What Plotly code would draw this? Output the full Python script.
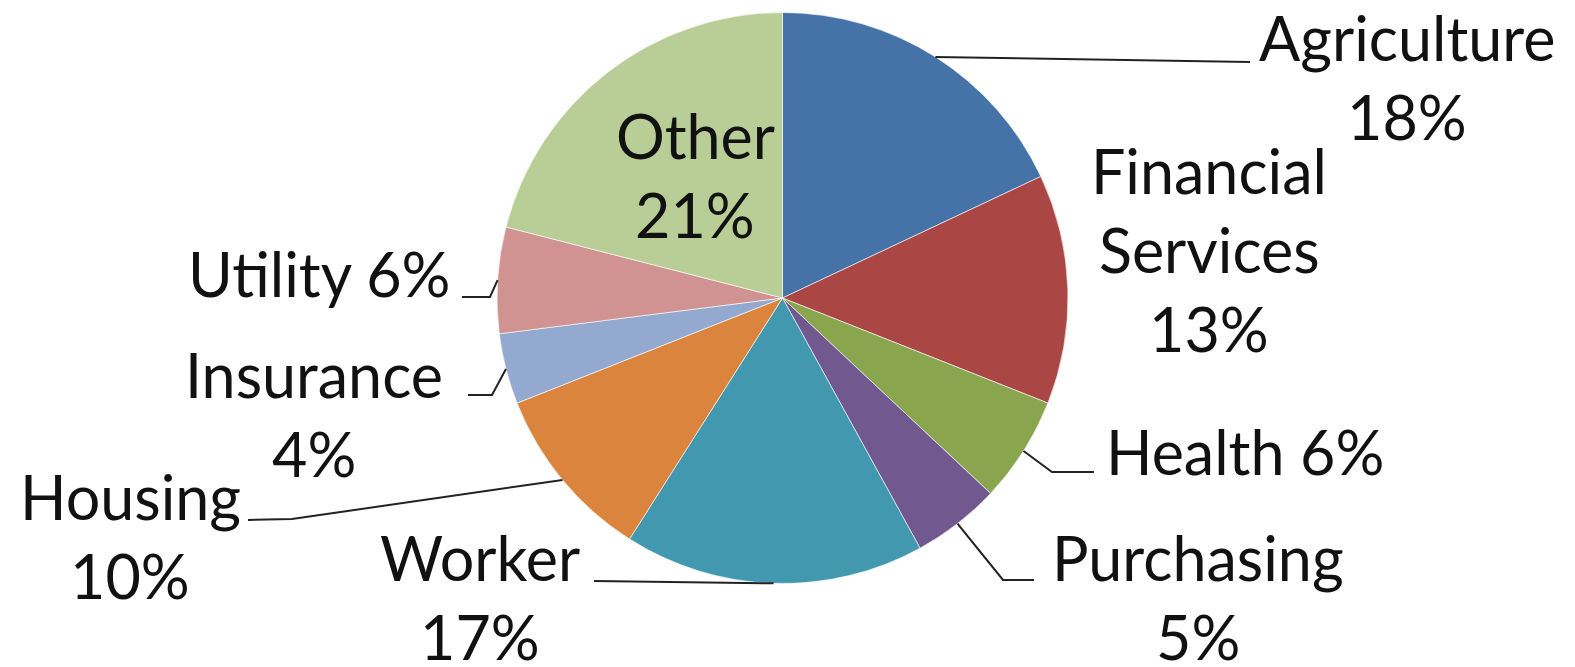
import math
import plotly.graph_objects as go

# ---- data ----
categories = ["Agriculture", "Financial Services", "Health", "Purchasing", "Worker",
              "Housing", "Insurance", "Utility", "Other"]
values = [18, 13, 6, 5, 17, 10, 4, 6, 21]
colors = ["#4572A7", "#AA4643", "#89A54E", "#71588F", "#4198AF",
          "#DB843D", "#93A9CF", "#D19392", "#B9CD96"]

# label text lines per category (name part); percentage appended from values
label_lines = {
    "Agriculture": ["Agriculture", "{p}"],
    "Financial Services": ["Financial", "Services", "{p}"],
    "Health": ["Health {p}"],
    "Purchasing": ["Purchasing", "{p}"],
    "Worker": ["Worker", "{p}"],
    "Housing": ["Housing", "{p}"],
    "Insurance": ["Insurance", "{p}"],
    "Utility": ["Utility {p}"],
    "Other": ["Other", "{p}"],
}

# ---- layout / style (page pixel positions) ----
W, H = 1575, 667
OFF = 8  # browser body margin
CX, CY, R = 782.5, 298.0, 285.5
FONT = "Lato"
FS = 61
LINE_H = 79

# label anchor: (center x, first baseline y)
label_pos = {
    "Agriculture": (1407, 63),
    "Financial Services": (1209, 196),
    "Health": (1245, 477),
    "Purchasing": (1198, 583),
    "Worker": (480, 583),
    "Housing": (130, 522),
    "Insurance": (314, 400),
    "Utility": (319, 299),
    "Other": (695, 161),
}
# leader: list of points after the rim point (elbow, end); None = no leader
leaders = {
    "Agriculture": [(1250, 62)],
    "Financial Services": None,
    "Health": [(1052, 472), (1094, 472)],
    "Purchasing": [(1003, 580), (1034, 580)],
    "Worker": [(594, 581)],
    "Housing": [(292, 519), (248, 520)],
    "Insurance": [(492, 395), (468, 395)],
    "Utility": [(490, 297), (462, 297)],
    "Other": None,
}


def px(x):
    return (x - OFF) / W


def py(y):
    return 1 - (y - OFF) / H


fig = go.Figure()
fig.add_trace(go.Pie(
    labels=categories,
    values=values,
    sort=False,
    direction="clockwise",
    rotation=0,
    marker=dict(colors=colors, line=dict(color="rgba(255,255,255,0.6)", width=1)),
    textinfo="none",
    hoverinfo="label+percent",
    showlegend=False,
    domain=dict(x=[px(CX - R), px(CX + R)], y=[py(CY + R), py(CY - R)]),
))

total = sum(values)
cum = 0
annotations = []
shapes = []
for cat, v in zip(categories, values):
    mid = (cum + v / 2) / total * 2 * math.pi
    cum += v
    pct = f"{round(v / total * 100)}%"
    lx, ly = label_pos[cat]
    for i, line in enumerate(label_lines[cat]):
        annotations.append(dict(
            x=px(lx), y=py(ly + i * LINE_H - 0.41 * FS), xref="paper", yref="paper",
            text=line.format(p=pct), showarrow=False, xanchor="center", yanchor="middle",
            font=dict(family=FONT, size=FS, color="#111111"),
        ))
    pts = leaders[cat]
    if pts:
        rx = CX + R * math.sin(mid)
        ry = CY - R * math.cos(mid)
        path = f"M {px(rx)},{py(ry)} " + " ".join(f"L {px(x)},{py(y)}" for x, y in pts)
        shapes.append(dict(type="path", path=path, xref="paper", yref="paper",
                           line=dict(color="#222222", width=2)))

fig.update_layout(
    width=W, height=H,
    margin=dict(l=0, r=0, t=0, b=0),
    paper_bgcolor="white", plot_bgcolor="white",
    annotations=annotations, shapes=shapes,
)
fig.write_html("out.html")
